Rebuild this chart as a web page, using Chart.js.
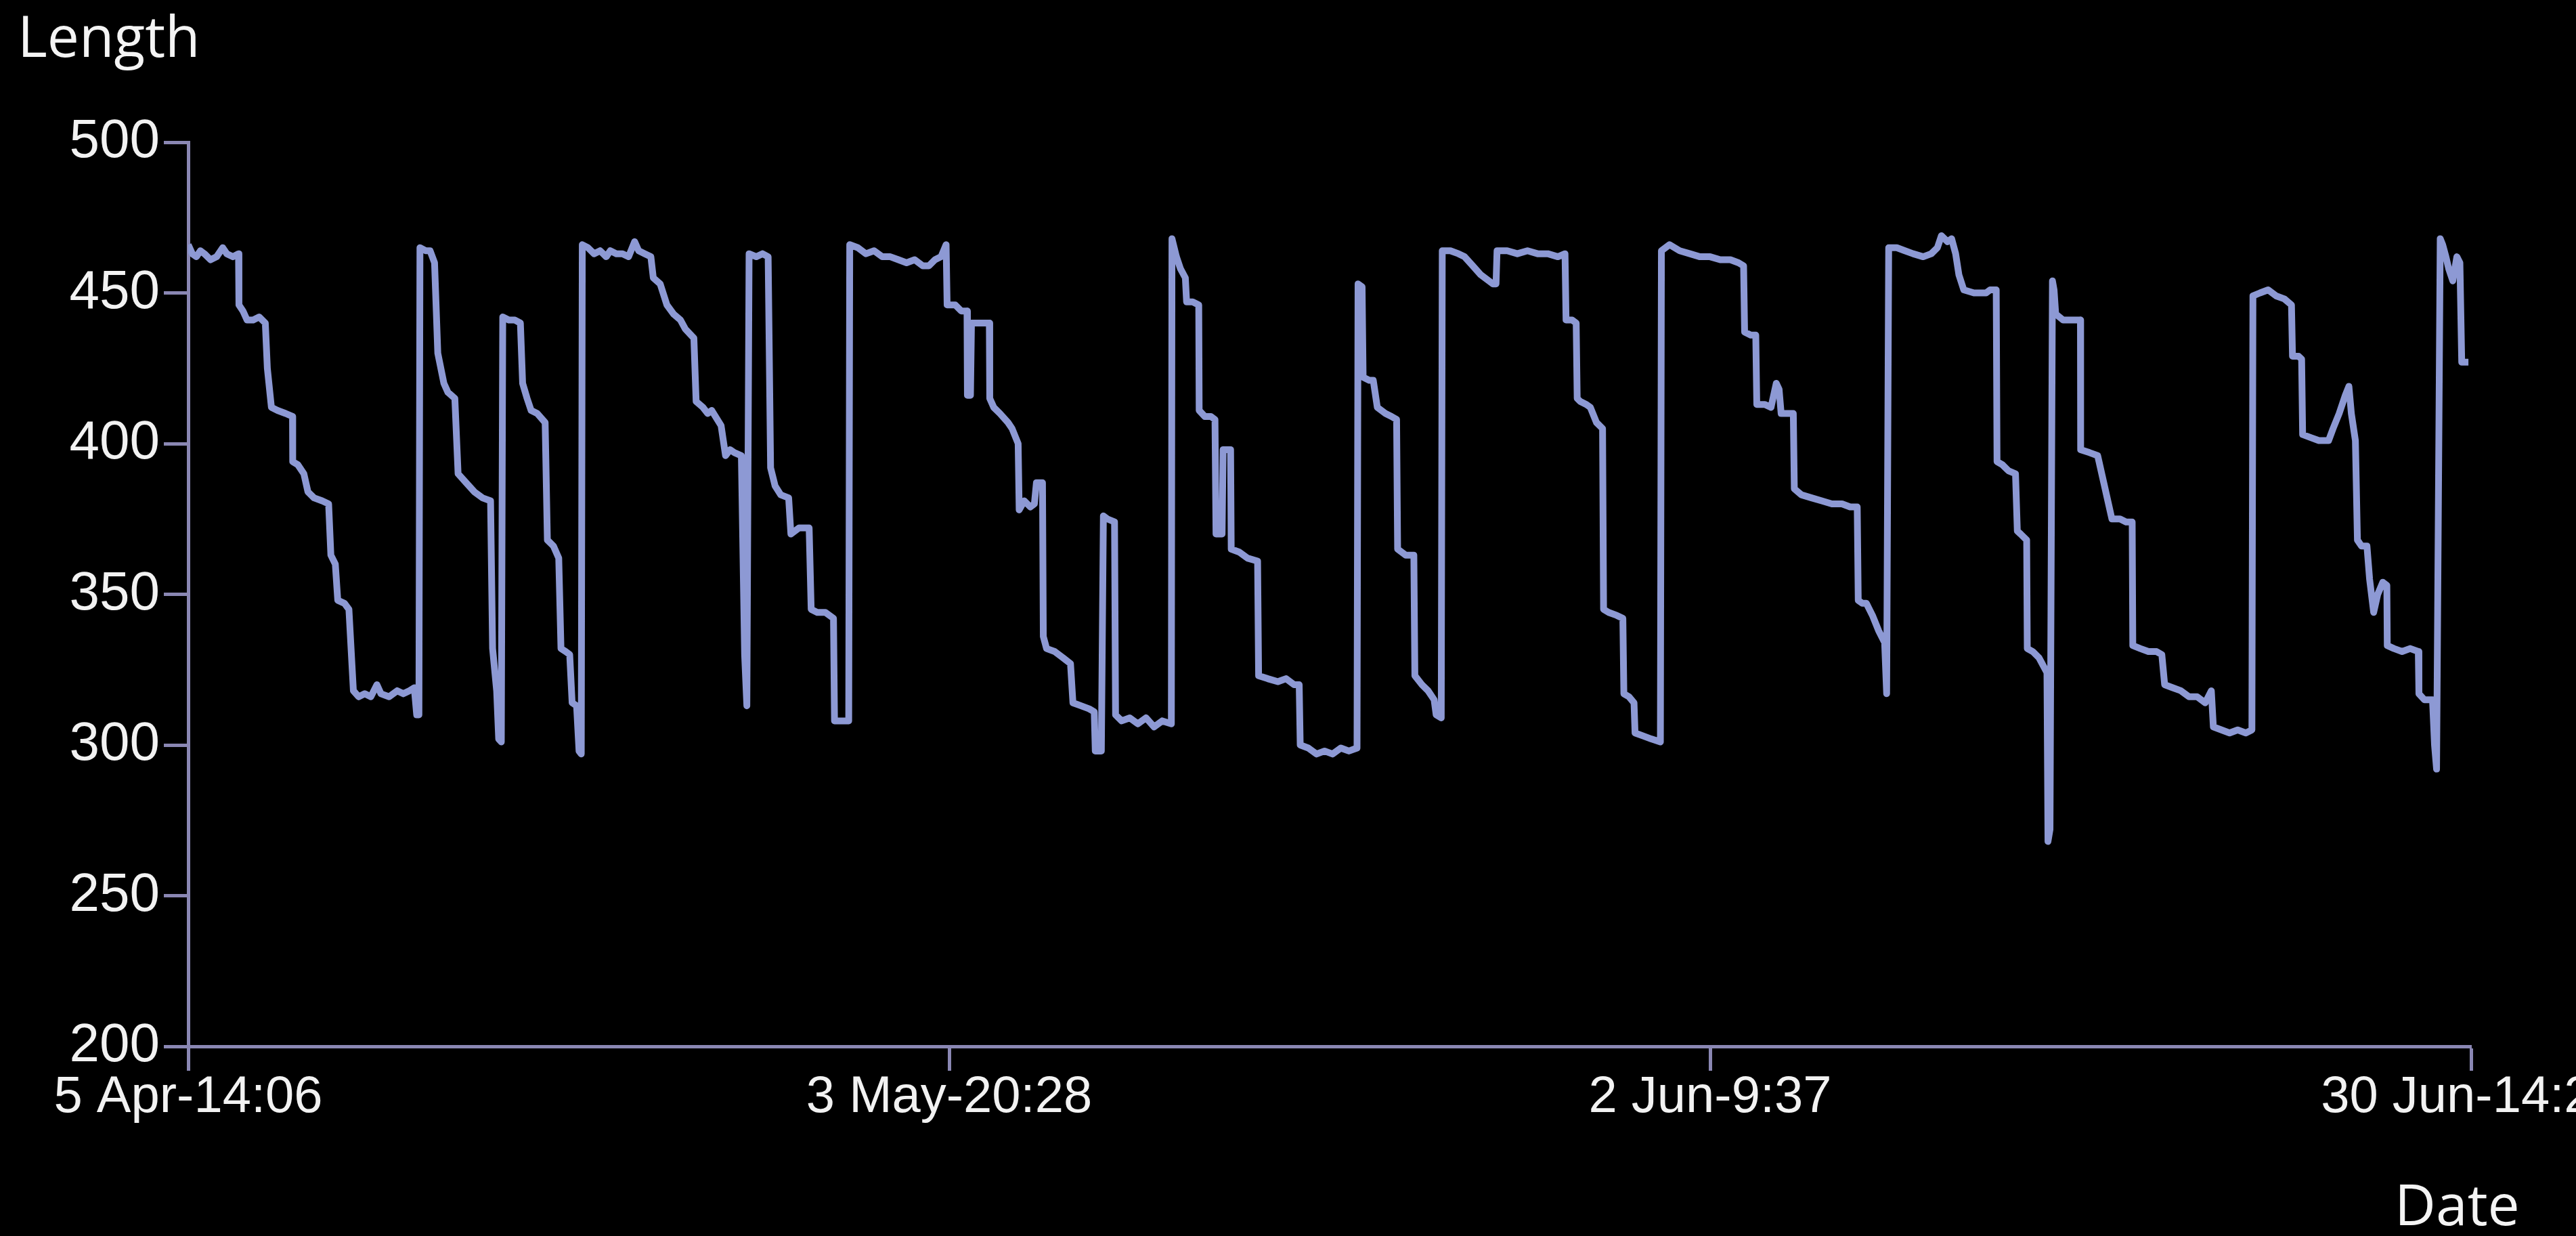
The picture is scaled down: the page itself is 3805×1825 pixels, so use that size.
<!DOCTYPE html>
<html>
<head>
<meta charset="utf-8">
<title>Length</title>
<script src="https://cdn.jsdelivr.net/npm/chart.js@4/dist/chart.umd.min.js"></script>
<style>
  html, body { margin: 0; padding: 0; background: #000; overflow: hidden; width: 3805px; height: 1825px; }
  #wrap { position: absolute; left: 0; top: 0; width: 3950px; height: 1825px; }
  .titulo { position: absolute; color: #f4f4f4; font-family: "Open Sans", sans-serif; font-size: 84px; line-height: 1; white-space: nowrap; }
</style>
</head>
<body>
<div id="wrap"><canvas id="grafico"></canvas></div>
<div class="titulo" style="left:26px; top:10px;">Length</div>
<div class="titulo" style="left:3537px; top:1735px;">Date</div>
<script>
// eixo x: amostras, com rótulos de data nas posições marcadas
const tickPositions = [0, 375, 750, 1125];
const tickLabels = ['5 Apr-14:06', '3 May-20:28', '2 Jun-9:37', '30 Jun-14:21'];
const yTicks = { min: 200, max: 500, step: 50 };

// [amostra, comprimento]
const lengthSeries = [
  [0,466],[2,463],[4,462],[6,464],[8,463],[11,461],[14,462],[17,465],[19,463],[22,462],[24.8,463],
  [25,446],[27,444],[29,441],[32,441],[35,442],[38,440],
  [39,425],[41,412],[44,411],[48,410],[51.4,409],
  [51.5,394],[54,393],[57,390],[59,384],[62,382],[66,381],[69.2,380],
  [70.3,363],[72.5,360],[73.7,348],[77,347],[79.2,345],
  [81.4,318],[84,316],[87,317],[90,316],[93,320],[95,317],[99,316],[103,318],[106,317],[109,318],[111.4,319],
  [112.6,310],[113.7,310],
  [114.2,465],[117,464],[119.2,464],
  [121.4,460],[123,430],[126,420],[128,417],[131.4,415],
  [133,390],[137,387],[141,384],[145,382],[149,381],
  [150,332],[152,318],[153,302],[154.3,301],
  [155,442],[158,441],[161,441],[163.7,440],
  [164.8,420],[167,415],[169,411],[172,410],[175.9,407],
  [177,368],[180,366],[182.6,362],
  [183.7,332],[186,331],[188,330],
  [189.2,314],[191.4,313],
  [192.6,298],[193.7,297],
  [194.2,466],[197,465],[200,463],[203,464],[206,462],[208,464],[211,463],[214,463],[217,462],[220,467],[222,464],[225,463],[228,462],
  [229.2,455],[232.6,453],[235.9,446],[239.2,443],[242.6,441],[245,438],[249.2,435],
  [250.3,414],[253.7,412],[256,410],[258,411],[262.6,406],
  [264.8,396],[267,398],[269.2,397],[272.6,396],
  [274.2,330],[275.3,313],
  [276.4,463],[280,462],[283,463],[285.8,462],
  [287,392],[289.2,386],[292,383],[295.9,382],
  [297,370],[301,372],[306,372],
  [307,345],[310,344],[314,344],[318,342],
  [318.5,308],[322,308],[325.5,308],
  [326,466],[330,465],[334,463],[338,464],[342,462],[346,462],[350,461],[354,460],[358,461],[362,459],[365,459],[368,461],[371,462],[373.5,466],
  [374,446],[378,446],[381,444],[383.8,444],
  [384,416],[385.5,416],
  [386,440],[390,440],[394.8,440],
  [395,415],[397,412],[400,410],[404,407],[406,405],[409,400],
  [409.5,378],[412,381],[415,379],[417,380],[418,387],[421,387],
  [421.4,336],[423,332],[427,331],[431,329],[434.8,327],
  [436,314],[440,313],[444,312],[446.5,311],
  [447,298],[450,298],
  [451,376],[453,375],[456.5,374],
  [457,310],[460,308],[464,309],[468,307],[472,309],[476,306],[480,308],[484.5,307],
  [484.8,468],[487,462],[489,458],[491.4,455],[492,447],[495,447],[498,446],
  [498.2,411],[501,409],[504,409],[506,408],
  [506.5,370],[509.5,370],
  [510,398],[512,398],[513.7,398],
  [514,365],[518,364],[522,362],[527,361],
  [527.5,323],[532,322],[537,321],[541,322],[545,320],[547.5,320],
  [548,300],[552,299],[556,297],[560,298],[564,297],[568,299],[572,298],[576,299],
  [576.5,453],[578.5,452],
  [579,422],[582,421],[584,421],[586,412],[590,410],[593,409],[595.5,408],
  [596,365],[600,363],[604,363],
  [604.5,323],[608,320],[611,318],[614,315],[615,310],[617.5,309],
  [618,464],[622,464],[626,463],[629,462],[633,459],[637,456],[641,454],[643,453],[644.5,453],
  [645,464],[650,464],[655,463],[660,464],[665,463],[670,463],[675,462],[678.5,463],
  [679,441],[682,441],[684,440],
  [684.5,415],[686,414],[689,413],[691,412],[694,407],[697,405],
  [697.5,345],[700,344],[704,343],[707,342],
  [707.5,317],[710,316],[712.5,314],
  [713,304],[717,303],[721,302],[725.5,301],
  [726,464],[730,466],[735,464],[740,463],[745,462],[750,462],[755,461],[760,461],[764,460],[766.5,459],
  [767,437],[770,436],[772.5,436],
  [773,413],[777,413],[780,412],[782.6,420],[784,418],[785,410],[788,410],[791,410],
  [791.5,385],[795,383],[800,382],[805,381],[810,380],[815,380],[819,379],[822.5,379],
  [823,348],[825,347],[827,347],[830,343],[833,338],[836,334],[837,317],
  [838,465],[842,465],[846,464],[850,463],[855,462],[859,463],[862,465],[864,469],[867,467],[869,468],[871,463],
  [872.6,456],[875,451],[880,450],[886,450],[888,451],[891,451],
  [891.4,394],[894,393],[897,391],[900.5,390],
  [901.4,371],[903,370],[906,368],
  [906.3,332],[909,331],[912,329],[916,324],
  [916.5,268],[917.5,272],
  [918.7,454],[919.5,451],[920.3,443],[924,441],[928,441],[932.5,441],
  [932.6,398],[937,397],[941,396],[944,387],[948,375],
  [952,375],[955,374],[958,374],
  [958.3,333],[962,332],[966,331],[970,331],[972.6,330],
  [974,320],[978,319],[982,318],[986,316],[990,316],[994,314],[997,318],
  [998,306],[1002,305],[1006,304],[1010,305],[1014,304],[1017,305],
  [1017.5,449],[1021,450],[1025,451],[1029,449],[1033,448],[1036.5,446],
  [1037,429],[1040,429],[1041.5,428],
  [1042,403],[1046,402],[1050,401],[1054.8,401],
  [1057,405],[1060,410],[1063,416],[1064.8,419],
  [1066,410],[1068,401],[1069,368],[1071,366],[1073.7,366],
  [1075,355],[1077,344],[1079,350],[1081.5,354],[1083.5,353],
  [1083.7,333],[1087,332],[1091,331],[1095,332],[1099,331],
  [1099.3,317],[1102,315],[1106,315],
  [1107,300],[1108,292],
  [1109.8,468],[1111,466],[1112.6,462],[1114,458],[1116,454],
  [1117,458],[1118,462],[1119.5,460],[1120.4,427],[1122,427],[1123.7,427]
];

const corLinha = '#8d99d4';
const corEixo = '#8a87b3';
const corTexto = '#f2f2f2';
const familia = '"Liberation Sans", Arial, sans-serif';

const ctx = document.getElementById('grafico').getContext('2d');
new Chart(ctx, {
  type: 'line',
  data: {
    datasets: [{
      data: lengthSeries.map(([x, y]) => ({ x, y })),
      borderColor: corLinha,
      borderWidth: 10,
      borderJoinStyle: 'round',
      pointRadius: 0,
      tension: 0,
      fill: false
    }]
  },
  options: {
    responsive: true,
    maintainAspectRatio: false,
    animation: false,
    devicePixelRatio: 1,
    layout: { padding: { top: 210, right: 300, left: 0, bottom: 0 } },
    plugins: { legend: { display: false }, tooltip: { enabled: false } },
    scales: {
      x: {
        type: 'linear',
        min: tickPositions[0],
        max: tickPositions[tickPositions.length - 1],
        afterBuildTicks: s => { s.ticks = tickPositions.map(v => ({ value: v })); },
        afterFit: s => { s.height = 1825 - 1545; },
        ticks: {
          autoSkip: false, maxRotation: 0, color: corTexto,
          font: { family: familia, size: 76 }, padding: -6,
          callback: (v, i) => tickLabels[i]
        },
        grid: { drawOnChartArea: false, drawTicks: true, tickLength: 36, tickColor: corEixo, tickWidth: 5 },
        border: { display: true, color: corEixo, width: 5 }
      },
      y: {
        min: yTicks.min,
        max: yTicks.max,
        afterFit: s => { s.width = 278; },
        ticks: { stepSize: yTicks.step, color: corTexto, font: { family: familia, size: 80 }, padding: 6 },
        grid: { drawOnChartArea: false, drawTicks: true, tickLength: 36, tickColor: corEixo, tickWidth: 5 },
        border: { display: true, color: corEixo, width: 5 }
      }
    }
  }
});
</script>
</body>
</html>
